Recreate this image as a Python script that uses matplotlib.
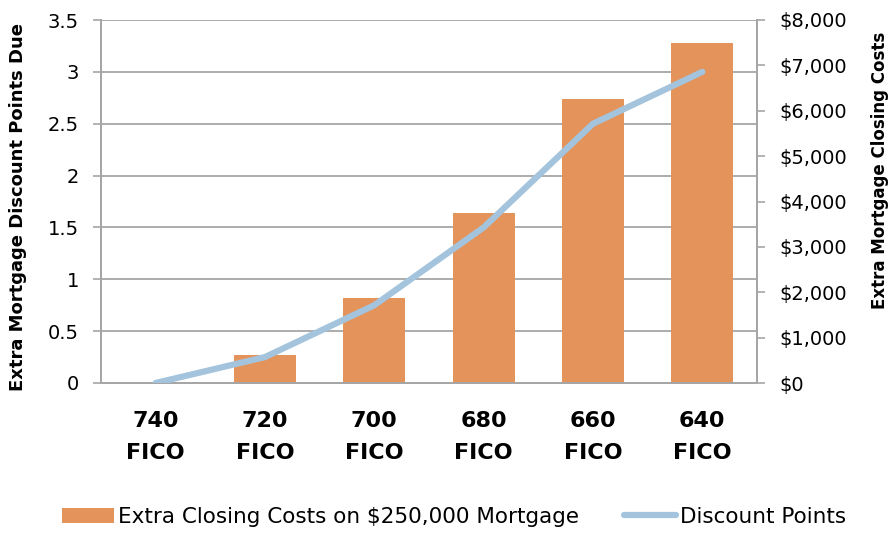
import matplotlib.pyplot as plt
import numpy as np
from matplotlib.ticker import FuncFormatter

categories = ["740\nFICO", "720\nFICO", "700\nFICO", "680\nFICO", "660\nFICO", "640\nFICO"]
closing_costs = [0, 625, 1875, 3750, 6250, 7500]
discount_points = [0, 0.25, 0.75, 1.5, 2.5, 3.0]

bar_color = "#E4935A"
line_color = "#A3C4DC"
grid_color = "#A6A6A6"

plt.rcParams['font.family'] = ['DejaVu Sans']

fig = plt.figure(figsize=(8.95, 5.34), dpi=100)
ax = fig.add_axes([101/895, 1 - 383/534, 656/895, 363/534])
ax2 = ax.twinx()

x = np.arange(len(categories))

# bars on the right axis, line on the left axis
ax2.bar(x, closing_costs, width=0.57, color=bar_color, zorder=2,
        label="Extra Closing Costs on $250,000 Mortgage")
ax.plot(x, discount_points, color=line_color, lw=4.5, solid_capstyle='round',
        label="Discount Points", zorder=3)

ax.set_zorder(ax2.get_zorder() + 1)
ax.patch.set_visible(False)

ax.set_xlim(-0.5, 5.5)
ax.set_ylim(0, 3.5)
ax.set_yticks(np.arange(0, 3.51, 0.5))
ax.set_yticklabels(["0", "0.5", "1", "1.5", "2", "2.5", "3", "3.5"])
ax2.set_ylim(0, 8000)
ax2.set_yticks(np.arange(0, 8001, 1000))
ax2.yaxis.set_major_formatter(FuncFormatter(lambda v, p: f"${v:,.0f}"))

# gridlines drawn on the bar axis so they sit behind the bars
for yv in np.arange(0.5, 3.51, 0.5):
    ax2.axhline(yv / 3.5 * 8000, color=grid_color, lw=1.3, zorder=1)

ax.set_xticks(x)
ax.set_xticklabels(categories, fontsize=16, fontweight='bold', linespacing=1.75)
ax.tick_params(axis='x', length=0, pad=20)
ax.tick_params(axis='y', labelsize=14, color=grid_color, length=6, width=1.2, pad=10)
ax2.tick_params(axis='y', labelsize=14, color=grid_color, length=6, width=1.2, pad=10)

for a in (ax, ax2):
    a.spines['top'].set_visible(False)
    for side in ('left', 'right', 'bottom'):
        a.spines[side].set_color(grid_color)
        a.spines[side].set_linewidth(1.3)

ax.set_ylabel("Extra Mortgage Discount Points Due", fontsize=13, fontweight='bold')
ax2.set_ylabel("Extra Mortgage Closing Costs", fontsize=12, fontweight='bold')
ax.yaxis.set_label_coords((27 - 101)/656, 0.485)
ax2.yaxis.set_label_coords((871 - 101)/656, 0.587)

h1, l1 = ax2.get_legend_handles_labels()
h2, l2 = ax.get_legend_handles_labels()
fig.legend(h1 + h2, l1 + l2, loc='center', bbox_to_anchor=(454/895, 1 - 517/534),
           ncol=2, frameon=False, fontsize=15.5, handlelength=2.4,
           handletextpad=0.2, columnspacing=2.1, borderpad=0)

fig.savefig("out.png", dpi=100)
